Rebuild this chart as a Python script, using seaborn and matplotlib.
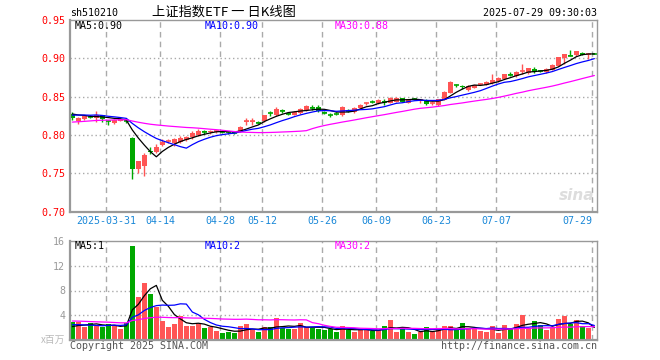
import numpy as np
import pandas as pd
import matplotlib
matplotlib.use('Agg')
import matplotlib.pyplot as plt
import seaborn as sns

sns.set_theme(style='white')
plt.rcParams['font.family'] = ['DejaVu Sans Mono', 'Noto Sans CJK SC']

# daily candles 2025-03-21 .. 2025-07-29 (88 trading days)
opens = [0.8275, 0.8185, 0.8205, 0.8240, 0.8220, 0.8255, 0.8185, 0.8160, 0.8185, 0.8180,
         0.7965, 0.7560, 0.7590, 0.7790, 0.7780, 0.7870, 0.7915, 0.7900, 0.7905, 0.7935,
         0.7970, 0.8000, 0.8045, 0.8035, 0.8040, 0.8048, 0.8040, 0.8035, 0.8050, 0.8170,
         0.8170, 0.8165, 0.8182, 0.8290, 0.8255, 0.8320, 0.8280, 0.8262, 0.8290, 0.8320,
         0.8362, 0.8365, 0.8298, 0.8262, 0.8275, 0.8262, 0.8318, 0.8298, 0.8346, 0.8410,
         0.8435, 0.8415, 0.8440, 0.8420, 0.8432, 0.8476, 0.8418, 0.8470, 0.8445, 0.8460,
         0.8410, 0.8390, 0.8458, 0.8550, 0.8652, 0.8640, 0.8592, 0.8616, 0.8660, 0.8651,
         0.8673, 0.8699, 0.8730, 0.8792, 0.8765, 0.8828, 0.8809, 0.8861, 0.8835, 0.8817,
         0.8853, 0.8905, 0.9002, 0.9040, 0.9037, 0.9072, 0.9055, 0.9060]
highs = [0.8300, 0.8230, 0.8250, 0.8255, 0.8310, 0.8265, 0.8200, 0.8205, 0.8215, 0.8210,
         0.7970, 0.7660, 0.7760, 0.7845, 0.7880, 0.7940, 0.7940, 0.7955, 0.7980, 0.7990,
         0.8045, 0.8075, 0.8060, 0.8060, 0.8065, 0.8060, 0.8055, 0.8050, 0.8115, 0.8215,
         0.8215, 0.8180, 0.8260, 0.8310, 0.8360, 0.8340, 0.8295, 0.8310, 0.8350, 0.8390,
         0.8390, 0.8390, 0.8310, 0.8280, 0.8295, 0.8375, 0.8335, 0.8365, 0.8400, 0.8430,
         0.8450, 0.8465, 0.8475, 0.8490, 0.8490, 0.8485, 0.8475, 0.8480, 0.8475, 0.8470,
         0.8440, 0.8475, 0.8570, 0.8700, 0.8670, 0.8650, 0.8650, 0.8655, 0.8680, 0.8700,
         0.8790, 0.8750, 0.8795, 0.8815, 0.8840, 0.8930, 0.8875, 0.8880, 0.8845, 0.8870,
         0.8920, 0.9020, 0.9060, 0.9105, 0.9095, 0.9078, 0.9075, 0.9065]
lows = [0.8190, 0.8145, 0.8200, 0.8215, 0.8170, 0.8170, 0.8125, 0.8140, 0.8175, 0.8160,
        0.7425, 0.7500, 0.7460, 0.7755, 0.7760, 0.7860, 0.7890, 0.7850, 0.7890, 0.7925,
        0.7945, 0.7990, 0.8010, 0.8015, 0.8020, 0.8020, 0.8015, 0.8015, 0.8040, 0.8135,
        0.8135, 0.8145, 0.8170, 0.8245, 0.8250, 0.8290, 0.8260, 0.8255, 0.8275, 0.8315,
        0.8320, 0.8295, 0.8270, 0.8240, 0.8255, 0.8250, 0.8295, 0.8290, 0.8335, 0.8390,
        0.8415, 0.8405, 0.8390, 0.8415, 0.8425, 0.8425, 0.8410, 0.8450, 0.8420, 0.8395,
        0.8395, 0.8380, 0.8450, 0.8545, 0.8620, 0.8600, 0.8570, 0.8610, 0.8645, 0.8645,
        0.8665, 0.8690, 0.8725, 0.8765, 0.8755, 0.8800, 0.8800, 0.8810, 0.8815, 0.8810,
        0.8845, 0.8900, 0.8930, 0.9030, 0.9030, 0.9040, 0.8990, 0.9050]
closes = [0.8225, 0.8225, 0.8245, 0.8235, 0.8265, 0.8205, 0.8180, 0.8195, 0.8210, 0.8175,
          0.7560, 0.7655, 0.7735, 0.7780, 0.7840, 0.7910, 0.7920, 0.7940, 0.7955, 0.7975,
          0.8020, 0.8050, 0.8040, 0.8045, 0.8048, 0.8040, 0.8032, 0.8030, 0.8105, 0.8175,
          0.8178, 0.8160, 0.8255, 0.8282, 0.8338, 0.8312, 0.8272, 0.8303, 0.8332, 0.8375,
          0.8356, 0.8315, 0.8292, 0.8256, 0.8270, 0.8362, 0.8314, 0.8355, 0.8392, 0.8415,
          0.8430, 0.8457, 0.8432, 0.8482, 0.8484, 0.8435, 0.8465, 0.8466, 0.8452, 0.8402,
          0.8418, 0.8467, 0.8565, 0.8690, 0.8645, 0.8625, 0.8643, 0.8651, 0.8666, 0.8695,
          0.8721, 0.8743, 0.8790, 0.8786, 0.8826, 0.8832, 0.8870, 0.8817, 0.8830, 0.8861,
          0.8914, 0.9015, 0.9050, 0.9036, 0.9089, 0.9046, 0.9060, 0.9055]
volumes = [3.0, 3.0, 2.2, 2.7, 2.3, 2.2, 2.6, 2.3, 1.8, 2.7,
           15.1, 7.0, 9.2, 7.4, 5.4, 3.1, 2.2, 2.6, 3.9, 2.3,
           2.3, 2.6, 1.9, 2.2, 1.5, 1.1, 1.4, 1.1, 2.3, 2.6,
           1.6, 1.3, 2.1, 2.1, 3.6, 1.9, 1.8, 1.8, 2.8, 2.2,
           1.9, 1.8, 1.7, 1.8, 1.4, 2.3, 1.6, 1.4, 1.8, 1.6,
           1.5, 1.6, 2.3, 3.2, 1.3, 2.0, 1.3, 1.0, 1.3, 2.1,
           1.3, 2.0, 2.3, 2.3, 1.6, 2.7, 2.0, 1.8, 1.5, 1.3,
           2.3, 1.1, 2.5, 1.8, 2.6, 4.0, 2.0, 3.1, 2.5, 1.6,
           2.1, 3.4, 3.9, 2.6, 3.2, 2.3, 2.0, 0.2]

# sessions before the window, only used to warm up the moving averages
prev_close = [0.808, 0.810, 0.806, 0.809, 0.812, 0.814, 0.811, 0.815, 0.813, 0.810,
              0.812, 0.816, 0.814, 0.811, 0.813, 0.815, 0.812, 0.814, 0.816, 0.813,
              0.821, 0.824, 0.826, 0.823, 0.827, 0.829, 0.827, 0.830, 0.828]
prev_vol = [3.6, 3.2, 3.9, 3.4, 3.1, 3.5, 3.8, 3.3, 3.0, 3.6,
            3.2, 3.4, 3.7, 3.1, 3.3, 3.5, 3.2, 3.4, 3.6, 3.2,
            2.9, 2.6, 3.0, 2.8, 2.7, 2.1, 1.9, 2.2, 1.8]

tick_idx = [6, 15, 25, 32, 42, 51, 61, 71, 87]
tick_labels = ['2025-03-31', '04-14', '04-28', '05-12', '05-26',
               '06-09', '06-23', '07-07', '07-29']
price_ticks = [0.70, 0.75, 0.80, 0.85, 0.90, 0.95]
vol_ticks = [4, 8, 12, 16]

RED = '#ff5555'
GREEN = '#00a800'
MA_COLORS = {5: 'black', 10: '#0000ff', 30: '#ff00ff'}
FS = 7.2

df = pd.DataFrame({'open': opens, 'high': highs, 'low': lows,
                   'close': closes, 'vol': volumes})
df['x'] = np.arange(len(df))
up = df['close'] > df['open']
df['color'] = np.where(up, RED, GREEN)

all_close = pd.Series(prev_close + closes)
all_vol = pd.Series(prev_vol + volumes)
k = len(prev_close)
for w in (5, 10, 30):
    df[f'ma{w}'] = all_close.rolling(w).mean().iloc[k:].values
    df[f'vma{w}'] = all_vol.rolling(w).mean().iloc[k:].values

W, H = 660, 360


def px(x, y):
    return x / W, 1 - y / H


fig = plt.figure(figsize=(6.6, 3.6), dpi=100)
ax = fig.add_axes([70 / W, 1 - 211.5 / H, 526.7 / W, 191.5 / H])
axv = fig.add_axes([70 / W, 1 - 340.3 / H, 526.7 / W, 99.6 / H])

half = 0.39
for a in (ax, axv):
    for t in tick_idx:
        a.axvline(t - half, color='#aaaaaa', ls=(0, (4, 3)), lw=1, zorder=0)
for v in price_ticks[1:-1]:
    ax.axhline(v, color='#aaaaaa', ls=(0, (1, 2)), lw=1, zorder=0)
for v in vol_ticks[:-1]:
    axv.axhline(v, color='#aaaaaa', ls=(0, (1, 2)), lw=1, zorder=0)

# candles
ax.vlines(df['x'], df['low'], df['high'], colors=df['color'], lw=1, zorder=2)
body_lo = df[['open', 'close']].min(axis=1)
body_h = (df['close'] - df['open']).abs()
ax.bar(df['x'], body_h, bottom=body_lo, width=2 * half, color=df['color'],
       lw=0, zorder=2)
flat = body_h < 0.0009
ax.hlines(df.loc[flat, 'close'], df.loc[flat, 'x'] - half, df.loc[flat, 'x'] + half,
          colors=df.loc[flat, 'color'], lw=1.2, zorder=2)

# volume bars
axv.bar(df['x'], df['vol'], width=2 * half, color=df['color'], lw=0, zorder=2)

for w, c in MA_COLORS.items():
    sns.lineplot(x=df['x'], y=df[f'ma{w}'], ax=ax, color=c, lw=0.9,
                 estimator=None, sort=False, zorder=3)
    sns.lineplot(x=df['x'], y=df[f'vma{w}'], ax=axv, color=c, lw=0.9,
                 estimator=None, sort=False, zorder=3)

ax.set_xlim(-half, len(df) - 1 + half)
axv.set_xlim(-half, len(df) - 1 + half)
ax.set_ylim(0.70, 0.95)
axv.set_ylim(0, 16)

for a in (ax, axv):
    a.set_xlabel('')
    a.set_ylabel('')
    for s in a.spines.values():
        s.set_color('#999999')
        s.set_linewidth(1)
    a.spines['left'].set_linewidth(1.6)
    a.spines['bottom'].set_linewidth(1.6)
    a.tick_params(length=0)

ax.set_yticks(price_ticks)
ax.set_yticklabels([f'{v:.2f}' for v in price_ticks], color='red', fontsize=FS)
ax.tick_params(axis='y', pad=3.5)
ax.set_xticks([t - half for t in tick_idx])
ax.set_xticklabels(tick_labels, color='#1a88d8', fontsize=FS)
ax.tick_params(axis='x', pad=3.5)
ax.get_xticklabels()[-1].set_horizontalalignment('right')

axv.set_yticks(vol_ticks)
axv.set_yticklabels([str(v) for v in vol_ticks], color='#999999', fontsize=FS)
axv.tick_params(axis='y', pad=3.5)
axv.set_xticks([])

# header / footer texts
fig.text(*px(70, 13), 'sh510210', fontsize=FS, color='black', va='center')
fig.text(*px(152, 12), '上证指数ETF 一 日K线图', fontsize=9.5, color='black',
         va='center', family=['Noto Sans CJK SC', 'DejaVu Sans'])
fig.text(*px(597, 13), '2025-07-29 09:30:03', fontsize=FS, color='black',
         va='center', ha='right')
fig.text(*px(75, 26), 'MA5:0.90', fontsize=FS, color='black', va='center')
fig.text(*px(205, 26), 'MA10:0.90', fontsize=FS, color='#0000ff', va='center')
fig.text(*px(335, 26), 'MA30:0.88', fontsize=FS, color='#ff00ff', va='center')
fig.text(*px(75, 246), 'MA5:1', fontsize=FS, color='black', va='center')
fig.text(*px(205, 246), 'MA10:2', fontsize=FS, color='#0000ff', va='center')
fig.text(*px(335, 246), 'MA30:2', fontsize=FS, color='#ff00ff', va='center')
fig.text(*px(65, 340), 'x百万', fontsize=7, color='#bbbbbb', va='center', ha='right',
         family=['Noto Sans CJK SC', 'DejaVu Sans'])
fig.text(*px(70, 346), 'Copyright 2025 SINA.COM', fontsize=FS, color='#555555',
         va='center')
fig.text(*px(597, 346), 'http://finance.sina.com.cn', fontsize=FS, color='#555555',
         va='center', ha='right')
fig.text(*px(594, 196), 'sina', fontsize=11, color='#dddddd', va='center',
         ha='right', style='italic', weight='bold', family='DejaVu Sans')

fig.savefig('out.png', dpi=100)
